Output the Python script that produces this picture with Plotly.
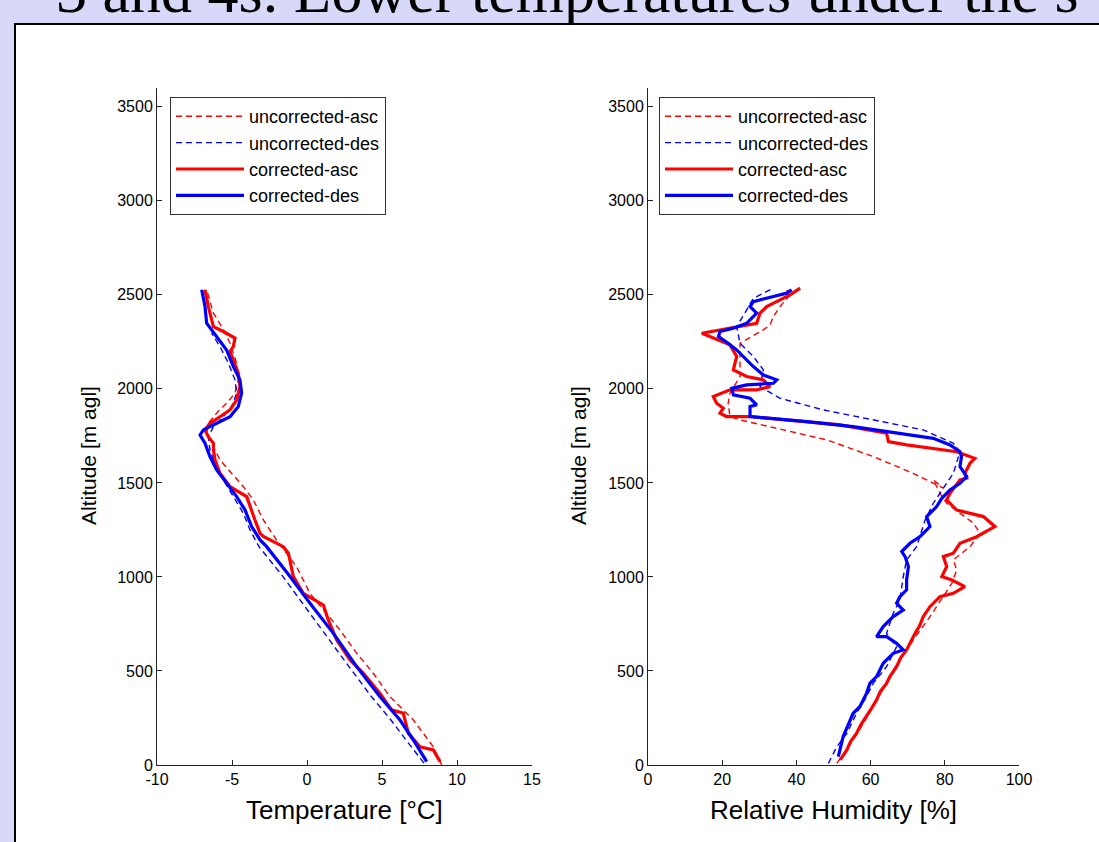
import plotly.graph_objects as go

# ---------------- Temperature profiles (T in degC, altitude in m agl) ----------------
t_unc_asc_T = [8.98, 8.42, 7.09, 5.53, 4.42, 3.31, 2.2, 0.2, -0.7, -2.04, -2.91, -3.58, -4.24,
               -5.02, -5.8, -6.24, -6.69, -6.58, -6.02, -5.36, -4.8, -4.58, -4.69, -5.13, -5.69,
               -6.24, -6.69]
t_unc_asc_z = [0, 97, 239, 363, 488, 594, 718, 912, 1055, 1197, 1303, 1410, 1480,
               1551, 1622, 1693, 1764, 1817, 1871, 1924, 1977, 2048, 2137, 2243, 2331,
               2403, 2527]

t_unc_des_T = [7.8, 7.3, 6.6, 5.6, 4.3, 2.8, 1.2, -0.3, -1.6, -3.2, -3.8, -4.24, -4.91,
               -5.58, -6.13, -6.47, -6.58, -6.24, -5.58, -5.02, -4.69, -4.8, -5.24, -5.8, -6.36]
t_unc_des_z = [10, 60, 133, 239, 363, 523, 700, 860, 1002, 1161, 1250, 1338, 1427,
               1516, 1605, 1676, 1746, 1799, 1852, 1906, 1977, 2048, 2137, 2225, 2296]

t_cor_asc_T = [8.87, 8.42, 7.53, 6.76, 6.42, 5.64, 4.87, 3.76, 2.87, 1.98, 1.42, 1.09, -0.24,
               -0.91, -1.24, -1.58, -2.91, -3.13, -3.47, -3.8, -4.02, -5.13, -5.8, -6.13, -6.24,
               -6.24, -6.58, -6.8, -6.47, -5.8, -5.13, -4.69, -4.47, -4.58, -4.91, -5.13, -4.91,
               -4.8, -5.58, -6.24, -6.58, -6.8]
t_cor_asc_z = [18, 80, 97, 168, 275, 293, 381, 488, 559, 665, 771, 851, 912,
               1002, 1126, 1161, 1215, 1232, 1303, 1374, 1427, 1480, 1551, 1622, 1676,
               1711, 1746, 1782, 1817, 1852, 1888, 1941, 2012, 2084, 2155, 2199, 2225,
               2270, 2305, 2331, 2438, 2527]

t_cor_des_T = [7.98, 7.09, 6.2, 4.87, 3.31, 1.76, 0.2, -1.13, -2.69, -3.13, -3.69, -4.13,
               -4.69, -5.36, -6.02, -6.47, -6.8, -7.13, -6.91, -6.02, -5.13, -4.58, -4.36,
               -4.47, -4.91, -5.36, -6.02, -6.69, -6.8, -7.02]
t_cor_des_z = [18, 133, 239, 363, 523, 700, 860, 1002, 1161, 1197, 1268, 1356,
               1427, 1498, 1569, 1640, 1711, 1755, 1782, 1817, 1852, 1906, 1977,
               2048, 2119, 2207, 2278, 2349, 2438, 2527]

# ---------------- Relative humidity profiles (RH in %, altitude in m agl) ----------------
rh_unc_asc_RH = [50.9, 53.0, 55.3, 58.0, 60.7, 63.5, 66.1, 69.0, 71.5, 76.0, 79.6, 81.9, 83.2,
                 82.3, 86.8, 89.5, 87.7, 84.1, 80.5, 78.7, 76.9, 79.6, 71.5, 60.7, 48.2, 36.5,
                 24.8, 22.1, 21.6, 22.1, 24.8, 24.8, 31.1, 32.9, 33.8, 35.6, 38.3, 37.4]
rh_unc_asc_z = [9, 70, 133, 220, 310, 410, 505, 590, 665, 789, 895, 966, 1037,
                1090, 1161, 1232, 1286, 1339, 1392, 1445, 1516, 1472, 1551, 1640, 1729, 1782,
                1835, 1853, 1924, 1977, 2066, 2243, 2314, 2340, 2385, 2438, 2500, 2527]

rh_unc_des_RH = [48.6, 50.9, 53.6, 56.2, 58.9, 60.7, 64.3, 67.0, 64.3, 66.1, 67.9, 68.8,
                 69.7, 72.4, 74.7, 76.9, 78.7, 82.3, 84.1, 82.3, 74.2, 60.7, 47.3, 35.6,
                 30.2, 31.1, 28.4, 24.8, 23.9, 26.6, 28.4, 33.8]
rh_unc_des_z = [9, 97, 168, 275, 363, 434, 523, 629, 700, 807, 878, 1002,
                1090, 1161, 1303, 1392, 1445, 1551, 1666, 1711, 1782, 1835, 1888, 1950,
                2012, 2101, 2172, 2243, 2331, 2420, 2482, 2536]

rh_cor_asc_RH = [51.8, 53.6, 54.6, 56.2, 57.4, 58.9, 60.2, 61.6, 62.6, 64.3, 65.2, 67.0,
                 68.1, 69.7, 70.6, 72.0, 73.2, 74.2, 76.0, 78.7,
                 82.3, 85.4, 81.9, 79.2, 80.5, 79.6, 82.3, 84.1, 88.6, 93.5, 90.4, 83.2,
                 80.5, 81.4, 84.1, 85.9, 85.4, 86.8, 88.1, 83.2, 69.7, 64.8, 64.3, 51.8,
                 27.5, 21.2, 19.4, 20.3, 18.5, 17.6, 22.1, 29.3, 32.9, 31.1, 26.6, 23.0,
                 23.9, 22.1, 14.5, 29.3, 30.2, 32.0, 38.3, 41.0]
rh_cor_asc_z = [27, 80, 125, 168, 215, 257, 300, 346, 390, 434, 470, 523,
                570, 612, 650, 700, 740, 789, 842, 895,
                913, 948, 984, 1002, 1055, 1108, 1126, 1179, 1214, 1268, 1321, 1356,
                1410, 1445, 1516, 1525, 1551, 1605, 1631, 1666, 1702, 1720, 1764, 1809,
                1853, 1853, 1871, 1897, 1924, 1959, 1995, 1995, 2012, 2048, 2066, 2101,
                2172, 2234, 2296, 2349, 2403, 2438, 2500, 2536]

rh_cor_des_RH = [51.3, 52.6, 55.3, 57.1, 58.9, 59.8, 61.6, 63.4, 66.1, 68.8, 67.0, 64.3,
                 61.6, 63.4, 66.1, 68.8, 67.0, 67.9, 69.7, 69.7, 70.2, 69.3, 68.4, 70.6,
                 73.3, 76.0, 75.1, 77.8, 79.2, 81.4, 84.1, 85.9, 84.1, 84.5, 84.1, 81.4,
                 76.9, 67.9, 55.3, 42.8, 33.8, 27.5, 27.5, 29.3, 27.5, 23.0, 22.6, 26.6,
                 33.8, 34.7, 31.1, 28.4, 25.7, 23.9, 21.6, 19.0, 19.4, 23.0, 26.6, 29.3,
                 27.5, 28.4, 33.8, 37.4, 38.7]
rh_cor_des_z = [44, 151, 275, 310, 381, 434, 470, 541, 594, 612, 647, 683,
                683, 736, 789, 824, 860, 895, 931, 984, 1055, 1108, 1135, 1179,
                1214, 1268, 1321, 1374, 1418, 1463, 1498, 1534, 1587, 1640, 1666, 1702,
                1737, 1764, 1799, 1826, 1844, 1853, 1906, 1915, 1950, 1968, 2003, 2021,
                2030, 2048, 2074, 2119, 2172, 2207, 2243, 2278, 2305, 2323, 2349, 2403,
                2438, 2464, 2491, 2509, 2527]

series_names = ["uncorrected-asc", "uncorrected-des", "corrected-asc", "corrected-des"]
temp_ticks = [-10, -5, 0, 5, 10, 15]
rh_ticks = [0, 20, 40, 60, 80, 100]
alt_ticks = [0, 500, 1000, 1500, 2000, 2500, 3000, 3500]

W, H = 1099, 842
RED, BLUE = "#ff0000", "#0000ff"
FONT = "Liberation Sans, Arial, sans-serif"

def px_x(p):
    return p / W

def px_y(p):
    return 1 - p / H

fig = go.Figure()

styles = [(RED, 1.4, "6px,4px"), (BLUE, 1.4, "6px,4px"), (RED, 3.2, "solid"), (BLUE, 3.2, "solid")]

temp_data = [(t_unc_asc_T, t_unc_asc_z), (t_unc_des_T, t_unc_des_z),
             (t_cor_asc_T, t_cor_asc_z), (t_cor_des_T, t_cor_des_z)]
rh_data = [(rh_unc_asc_RH, rh_unc_asc_z), (rh_unc_des_RH, rh_unc_des_z),
           (rh_cor_asc_RH, rh_cor_asc_z), (rh_cor_des_RH, rh_cor_des_z)]

for name, (xv, zv), (col, lw, dash) in zip(series_names, temp_data, styles):
    fig.add_trace(go.Scatter(x=xv, y=zv, mode="lines", name=name,
                             line=dict(color=col, width=lw, dash=dash),
                             xaxis="x", yaxis="y", legend="legend"))
for name, (xv, zv), (col, lw, dash) in zip(series_names, rh_data, styles):
    fig.add_trace(go.Scatter(x=xv, y=zv, mode="lines", name=name,
                             line=dict(color=col, width=lw, dash=dash),
                             xaxis="x2", yaxis="y2", legend="legend2"))

y_dom = [px_y(765), px_y(88)]
axis_common = dict(showline=True, linecolor="#222222", linewidth=1, ticks="inside",
                   ticklen=5, tickcolor="#222222", showgrid=False, zeroline=False,
                   tickfont=dict(family=FONT, size=16, color="black"), mirror=False,
                   automargin=False)

legend_common = dict(xanchor="left", yanchor="top", bgcolor="white", bordercolor="#333333",
                     borderwidth=1, font=dict(family=FONT, size=18, color="black"),
                     itemwidth=68, tracegroupgap=0)

fig.update_layout(
    template="none",
    width=W, height=H,
    margin=dict(l=0, r=0, t=0, b=0, pad=0, autoexpand=False),
    paper_bgcolor="#d8d8f8",
    plot_bgcolor="rgba(0,0,0,0)",
    showlegend=True,
    xaxis=dict(domain=[px_x(157), px_x(532)], range=[-10, 15], tickvals=temp_ticks,
               ticktext=[str(v) for v in temp_ticks], anchor="y", **axis_common),
    yaxis=dict(domain=y_dom, range=[0, 3600], tickvals=alt_ticks, anchor="x", **axis_common),
    xaxis2=dict(domain=[px_x(648), px_x(1019)], range=[0, 100], tickvals=rh_ticks,
                ticktext=[str(v) for v in rh_ticks], anchor="y2", **axis_common),
    yaxis2=dict(domain=y_dom, range=[0, 3600], tickvals=alt_ticks, anchor="x2", **axis_common),
    legend=dict(x=px_x(170), y=px_y(97), **legend_common),
    legend2=dict(x=px_x(659), y=px_y(97), **legend_common),
    shapes=[dict(type="rect", xref="paper", yref="paper", x0=px_x(15), x1=1.02,
                 y0=-0.02, y1=px_y(24), fillcolor="white",
                 line=dict(color="black", width=2), layer="below")],
)

annots = [
    dict(text="3 and 4s. Lower temperatures under the s", x=px_x(54), y=px_y(27),
         xanchor="left", yanchor="bottom", showarrow=False,
         font=dict(family="Liberation Serif, Times New Roman, serif", size=62, color="black")),
    dict(text="Temperature [°C]", x=px_x(344.5), y=px_y(810), xanchor="center", yanchor="middle",
         showarrow=False, font=dict(family=FONT, size=26, color="black")),
    dict(text="Relative Humidity [%]", x=px_x(833.5), y=px_y(810), xanchor="center",
         yanchor="middle", showarrow=False, font=dict(family=FONT, size=26, color="black")),
    dict(text="Altitude [m agl]", x=px_x(88), y=px_y(456), xanchor="center", yanchor="middle",
         textangle=-90, showarrow=False, font=dict(family=FONT, size=21, color="black")),
    dict(text="Altitude [m agl]", x=px_x(578), y=px_y(456), xanchor="center", yanchor="middle",
         textangle=-90, showarrow=False, font=dict(family=FONT, size=21, color="black")),
]
for a in annots:
    a["xref"] = "paper"
    a["yref"] = "paper"
fig.update_layout(annotations=annots)

fig.write_html("out.html", config={"responsive": False, "displayModeBar": False},
               post_script="document.body.style.margin='0';document.body.style.padding='0';"
                           "document.body.style.overflow='hidden';")
